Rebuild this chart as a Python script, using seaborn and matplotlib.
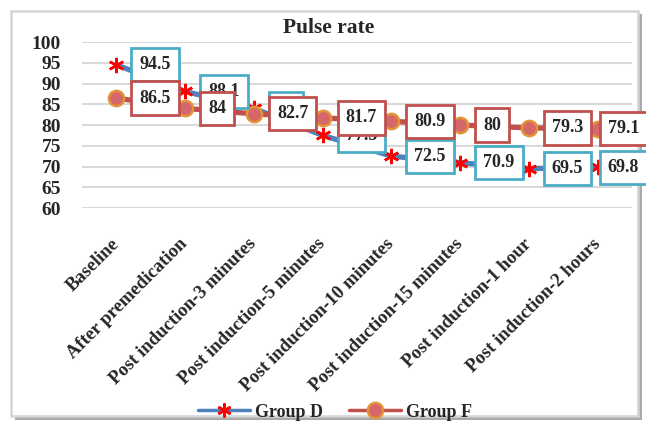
import numpy as np
import pandas as pd
import matplotlib
matplotlib.use("Agg")
import matplotlib.pyplot as plt
import seaborn as sns
from matplotlib.lines import Line2D
from matplotlib.patches import Rectangle

# ---------------------- 数据 ----------------------
time_points = ["Baseline", "After premedication", "Post induction-3 minutes",
               "Post induction-5 minutes", "Post induction-10 minutes",
               "Post induction-15 minutes", "Post induction-1 hour",
               "Post induction-2 hours"]
group_d = [94.5, 88.1, 84.0, 77.5, 72.5, 70.9, 69.5, 69.8]
group_f = [86.5, 84.0, 82.7, 81.7, 80.9, 80.0, 79.3, 79.1]
y_ticks = [60, 65, 70, 75, 80, 85, 90, 95, 100]

sns.set_style("white")
plt.rcParams["font.family"] = ["Liberation Serif", "DejaVu Serif"]
plt.rcParams["font.weight"] = "bold"

W, H = 646, 423
fig = plt.figure(figsize=(W / 100, H / 100), dpi=100)

# 外框（带阴影）
fig.patches.append(Rectangle((15 / W, 1 - 420 / H), 627 / W, 406 / H, transform=fig.transFigure,
                             fc="#a9a9a9", ec="none", zorder=-3))
fig.patches.append(Rectangle((11 / W, 1 - 416 / H), 627 / W, 405 / H, transform=fig.transFigure,
                             fc="white", ec="#d4d4d4", lw=1.8, zorder=-2))

ax = fig.add_axes([82 / W, 1 - 208 / H, 550 / W, 166 / H])
ax.set_facecolor("none")

df_d = pd.DataFrame({"time": time_points, "value": group_d})
df_f = pd.DataFrame({"time": time_points, "value": group_f})

blue, cyan, red = "#4F81BD", "#4BACC6", "#C0504D"

sns.lineplot(data=df_d, x="time", y="value", sort=False, ax=ax, color=blue, lw=3.8,
             marker=(6, 2, 0), markersize=11, markeredgecolor="#FF0000", mew=1.8, zorder=3)
sns.lineplot(data=df_f, x="time", y="value", sort=False, ax=ax, color=red, lw=3.8,
             marker="o", markersize=11, markerfacecolor="#D5676A", markeredgecolor="#E39436",
             mew=1.8, zorder=4)

# 数据标签（最后一个点的标签向左收，留在图框内）
n = len(time_points)
for vals, ec, z in [(group_d, cyan, 5), (group_f, red, 6)]:
    for i, v in enumerate(vals):
        dx = 10 if i == n - 1 else 23
        ax.annotate(f"{v:g}", (i, v), xytext=(dx, 0), textcoords="offset pixels",
                    ha="left", va="center", fontsize=13, fontweight="bold",
                    bbox=dict(boxstyle="square,pad=0.45", fc="white", ec=ec, lw=2), zorder=z)

ax.set_xlim(-0.5, n - 0.5)
ax.set_ylim(60, 100)
ax.set_yticks(y_ticks)
ax.grid(axis="y", color="#d9d9d9", lw=1.5)
ax.grid(axis="x", visible=False)
ax.set_axisbelow(True)
for s in ax.spines.values():
    s.set_visible(False)
ax.set_xlabel("")
ax.set_ylabel("")
ax.tick_params(axis="y", length=0, pad=15, labelsize=14)
ax.tick_params(axis="x", length=0, pad=24, labelsize=13.5)
ax.set_xticks(range(n))
ax.set_xticklabels(time_points, rotation=45, ha="right", va="center", rotation_mode="anchor")
for lab in ax.get_yticklabels() + ax.get_xticklabels():
    lab.set_fontweight("bold")

fig.text(329 / W, 1 - 28 / H, "Pulse rate", ha="center", va="center", fontsize=15.5, fontweight="bold")

handles = [
    Line2D([], [], color=blue, lw=2.5, marker=(6, 2, 0), markersize=10,
           markeredgecolor="#FF0000", mew=1.8),
    Line2D([], [], color=red, lw=2.5, marker="o", markersize=11,
           markerfacecolor="#D5676A", markeredgecolor="#E39436", mew=1.8),
]
fig.legend(handles, ["Group D", "Group F"], loc="center", bbox_to_anchor=(335 / W, 1 - 412 / H),
           ncol=2, frameon=False, handlelength=2.9, handletextpad=0.3,
           columnspacing=1.4, prop={"weight": "bold", "size": 13})

fig.savefig("out.png", dpi=100)
